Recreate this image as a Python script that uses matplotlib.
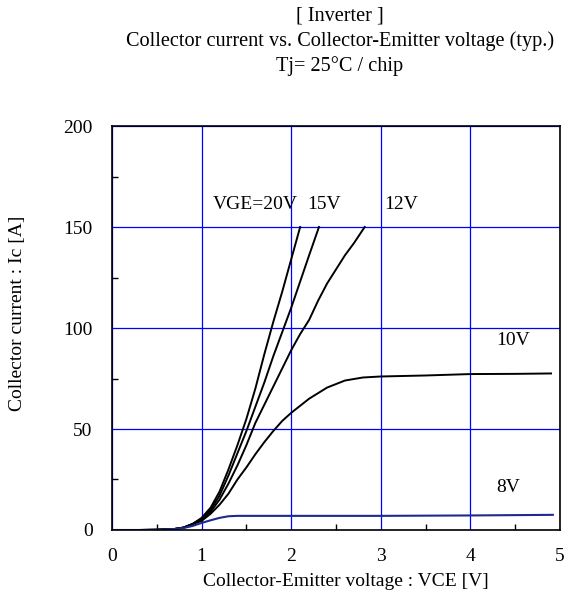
import matplotlib.pyplot as plt
from matplotlib.ticker import MultipleLocator

# curves (VCE [V], Ic [A])
vce_20 = [0, 0.3, 0.5, 0.7, 0.8, 0.9, 1.0, 1.1, 1.2, 1.3, 1.4, 1.5, 1.6, 1.7, 1.8, 1.9, 2.0, 2.1]
ic_20 = [0, 0, 0.1, 0.5, 1.2, 3, 6, 11, 19, 30, 42, 55, 70, 87, 103, 118, 134, 150]

vce_15 = [0, 0.3, 0.5, 0.7, 0.8, 0.9, 1.0, 1.1, 1.2, 1.3, 1.4, 1.5, 1.6, 1.7, 1.8, 1.9, 2.0, 2.1, 2.2, 2.31]
ic_15 = [0, 0, 0.1, 0.5, 1.2, 3, 5.5, 10, 17, 27, 38, 49, 61, 73, 86, 98, 110, 123, 136, 150]

vce_12 = [0, 0.3, 0.5, 0.7, 0.8, 0.9, 1.0, 1.1, 1.2, 1.3, 1.4, 1.5, 1.6, 1.7, 1.8, 1.9, 2.0, 2.1, 2.2, 2.3, 2.4, 2.5, 2.6, 2.7, 2.82]
ic_12 = [0, 0, 0.1, 0.5, 1.2, 3, 5, 9, 15, 23, 32, 42, 53, 62, 71, 80, 89, 97, 104, 113.5, 122, 129, 136, 142, 150]

vce_10 = [0, 0.3, 0.5, 0.7, 0.8, 0.9, 1.0, 1.1, 1.2, 1.3, 1.4, 1.5, 1.6, 1.7, 1.8, 1.9, 2.0, 2.2, 2.4, 2.6, 2.8, 3.0, 3.5, 4.0, 4.5, 4.9]
ic_10 = [0, 0, 0.1, 0.5, 1.2, 2.8, 4.5, 8, 12.5, 18, 25, 31, 37.5, 43.5, 49, 54, 58, 65, 70.5, 74, 75.5, 76, 76.5, 77.2, 77.3, 77.5]

vce_8 = [0, 0.3, 0.5, 0.7, 0.8, 0.9, 1.0, 1.1, 1.2, 1.3, 1.4, 2.0, 3.0, 4.0, 4.92]
ic_8 = [0, 0, 0.1, 0.5, 1, 2, 3.5, 4.8, 6, 6.8, 7, 7, 7, 7.2, 7.5]

labels = ['VGE=20V', '15V', '12V', '10V', '8V']
label_pos = [(1.13, 161), (2.18, 161), (3.04, 161), (4.29, 94), (4.29, 21)]

plt.rcParams['font.family'] = ['Liberation Serif', 'DejaVu Serif']

fig = plt.figure(figsize=(5.72, 5.99), dpi=100, facecolor='white')
ax = fig.add_axes([0.1958, 0.1152, 0.7832, 0.6744])

ax.plot(vce_20, ic_20, color='black', lw=1.4)
ax.plot(vce_15, ic_15, color='black', lw=1.4)
ax.plot(vce_12, ic_12, color='black', lw=1.4)
ax.plot(vce_10, ic_10, color='black', lw=1.4)
ax.plot(vce_8, ic_8, color='#1c2a8c', lw=1.5)

for txt, (x, y) in zip(labels, label_pos):
    ax.text(x, y, txt, fontsize=14, ha='left', va='center')

ax.set_xlim(0, 5)
ax.set_ylim(0, 200)
ax.xaxis.set_major_locator(MultipleLocator(1))
ax.xaxis.set_minor_locator(MultipleLocator(0.5))
ax.yaxis.set_major_locator(MultipleLocator(50))
ax.yaxis.set_minor_locator(MultipleLocator(25))
ax.grid(True, which='major', color='#0000ff', lw=0.9)
ax.tick_params(which='major', length=0, labelsize=14)
ax.tick_params(axis='y', which='major', pad=14)
ax.tick_params(axis='x', which='major', pad=13)
ax.tick_params(which='minor', direction='in', length=4, width=1)
for s in ax.spines.values():
    s.set_color('black')
    s.set_linewidth(1.2)

fig.text(0.605, 0.030, 'Collector-Emitter voltage : VCE [V]', fontsize=14, ha='center', va='center')
fig.text(0.031, 0.477, 'Collector current : Ic [A]', fontsize=14, ha='center', va='center', rotation=90)

fig.text(0.594, 0.974, '[ Inverter ]', fontsize=14.6, ha='center', va='center')
fig.text(0.594, 0.931, 'Collector current vs. Collector-Emitter voltage (typ.)', fontsize=14.6, ha='center', va='center')
fig.text(0.594, 0.889, 'Tj= 25°C / chip', fontsize=14.6, ha='center', va='center')

fig.savefig('out.png', dpi=100, facecolor='white')
